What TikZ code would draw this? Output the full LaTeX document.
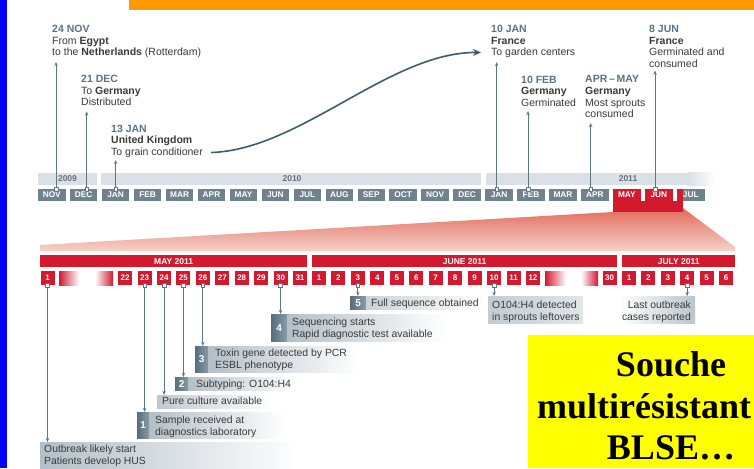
\documentclass[tikz,border=0pt]{standalone}
\usepackage{fontspec}
\setmainfont{Liberation Sans}
\newfontfamily\bigserif{Liberation Serif}
\usetikzlibrary{arrows.meta}
\definecolor{slate}{HTML}{6E8390}
\definecolor{yearbar}{HTML}{D9E1E6}
\definecolor{rd}{HTML}{D3192D}
\definecolor{ln}{HTML}{5F7785}
\definecolor{datec}{HTML}{5A7383}
\definecolor{txt}{HTML}{3A3A3A}
\definecolor{cbg}{HTML}{B3BFC7}
\definecolor{nsqd}{HTML}{566E7E}
\definecolor{nsql}{HTML}{8A9BA6}
\definecolor{yrtxt}{HTML}{65737D}
\definecolor{trtop}{HTML}{E26A5A}
\definecolor{trbot}{HTML}{F6D2C8}
\definecolor{orng}{HTML}{FF9900}
\definecolor{blu}{HTML}{0000FF}
\definecolor{ylw}{HTML}{FFFF00}
\definecolor{curvec}{HTML}{3F5C6C}
\newcommand\dtl[1]{\textcolor{datec}{\textbf{#1}}}
\newcommand\bld[1]{\textbf{#1}}
\tikzset{
  toptext/.style={anchor=north west, align=left, inner sep=0pt, text=txt, font=\fontsize{10.5}{11.6}\selectfont},
  mbox/.style={fill=slate, text=white, minimum width=27.5pt, minimum height=12pt, inner sep=0pt, font=\fontsize{8.3}{8.3}\selectfont\bfseries},
  ylabel/.style={text=yrtxt, inner sep=0pt, font=\fontsize{8.5}{8.5}\selectfont\bfseries},
  hbar/.style={fill=rd, text=white, minimum height=12pt, inner sep=0pt, font=\fontsize{8.5}{8.5}\selectfont\bfseries},
  dbox/.style={fill=rd, text=white, minimum width=14pt, minimum height=14pt, inner sep=0pt, font=\fontsize{8}{8}\selectfont\bfseries},
  csq/.style={draw=ln, fill=white, line width=0.6pt, minimum size=3.6pt, inner sep=0pt},
  arr/.style={draw=ln, line width=0.9pt, -{Stealth[length=4.2pt,width=3.4pt]}},
  cobg/.style={anchor=north west, inner sep=0pt, left color=cbg, right color=white},
  nsq/.style={anchor=north west, inner sep=0pt, left color=nsqd, right color=nsql, text=white, font=\fontsize{10}{10}\selectfont\bfseries},
  cotext/.style={inner sep=0pt, text=txt, align=left, font=\fontsize{10.4}{11.8}\selectfont},
  bigtxt/.style={inner sep=0pt, text=black, font=\bigserif\bfseries\fontsize{36}{36}\selectfont},
}
\begin{document}
\begin{tikzpicture}[x=1pt,y=-1pt]
\useasboundingbox (0,0) rectangle (754,468);
\begin{scope}
\clip (0,0) rectangle (754,468);
\fill[white] (0,0) rectangle (754,468);
% frame bars
\fill[blu] (0,0) rectangle (7,468);
\fill[orng] (129,0) rectangle (754,10.5);

% year bars
\fill[yearbar] (38,172.5) rectangle (97,185);
\fill[yearbar] (101,172.5) rectangle (481,185);
\fill[yearbar] (486,172.5) rectangle (688,185);
\shade[left color=yearbar, right color=white] (687.5,172.5) rectangle (716,185);
\node[ylabel] (y2009) at (67.5,179) {2009};
\node[ylabel] (y2010) at (292,179) {2010};
\node[ylabel] (y2011) at (628,179) {2011};

% month boxes
\foreach \m [count=\i from 0] in {NOV,DEC,JAN,FEB,MAR,APR,MAY,JUN,JUL,AUG,SEP,OCT,NOV,DEC,JAN,FEB,MAR,APR}
  \node[mbox] (m\i) at ({51.75+31.95*\i},195) {\m};
\node[mbox, fill=rd] (m18) at ({51.75+31.95*18},195) {MAY};
\node[mbox, fill=rd] (m19) at ({51.75+31.95*19},195) {JUN};
\node[mbox] (m20) at ({51.75+31.95*20},195) {};
\fill[rd] (m20.north west) rectangle ([xshift=6pt]m20.south west);
\node[text=white, inner sep=0pt, font=\fontsize{8.3}{8.3}\selectfont\bfseries] (m20t) at (m20) {JUL};

% zoom wedge
\shade[top color=trtop, bottom color=trbot] (40,245) -- (613,212) -- (683,208) -- (735,247) -- (735,251) -- (40,251) -- cycle;
\fill[rd] (m18.south west) rectangle (683,212);

% top texts
\node[toptext] (t1) at (52,25) {\dtl{24 NOV}\\From \bld{Egypt}\\to the \bld{Netherlands} (Rotterdam)};
\node[toptext] (t2) at (81,75) {\dtl{21 DEC}\\To \bld{Germany}\\Distributed};
\node[toptext] (t3) at (111,124.5) {\dtl{13 JAN}\\\bld{United Kingdom}\\To grain conditioner};
\node[toptext] (t4) at (491,25) {\dtl{10 JAN}\\\bld{France}\\To garden centers};
\node[toptext] (t5) at (521,75.5) {\dtl{10 FEB}\\\bld{Germany}\\Germinated};
\node[toptext] (t6) at (585,75.5) {\dtl{APR\,–\,MAY}\\\bld{Germany}\\Most sprouts\\consumed};
\node[toptext] (t7) at (649,25) {\dtl{8 JUN}\\\bld{France}\\Germinated and\\consumed};

% top arrows
\foreach \n/\xx/\tip in {1/56/62, 2/86.7/111.5, 3/115.7/160, 4/496.7/62, 5/528/111, 6/590.7/123, 7/655/70.5} {
  \coordinate (b\n) at (\xx,189);
  \coordinate (e\n) at (\xx,\tip);
  \draw[arr] (b\n) -- (e\n);
  \node[csq] (s\n) at (b\n) {};
}

% curve
\coordinate (cv0) at (211,152.5);
\coordinate (cv1) at (481,52.5);
\draw[curvec, line width=1.6pt, -{Stealth[length=8pt,width=7pt]}] (cv0) .. controls (300,150) and (390,52) .. (cv1);

% month header bars
\node[hbar, minimum width=267pt, anchor=north west] (hmay) at (40,255) {MAY 2011};
\node[hbar, minimum width=305pt, anchor=north west] (hjun) at (312,255) {JUNE 2011};
\node[hbar, minimum width=113pt, anchor=north west] (hjul) at (622,255) {JULY 2011};

% day boxes
\foreach \d/\k in {1/0,22/4,23/5,24/6,25/7,26/8,27/9,28/10,29/11,30/12,31/13}
  \node[dbox] (may\d) at ({47.5+19.42*\k},278) {\d};
\foreach \d in {1,...,12}
  \node[dbox] (jun\d) at ({319+19.45*(\d-1)},278) {\d};
\node[dbox] (jun30) at (609.5,278) {30};
\foreach \d in {1,...,6}
  \node[dbox] (jul\d) at ({629+19.4*(\d-1)},278) {\d};
\shade[left color=rd, right color=white] (59,271) rectangle (79,285);
\shade[left color=white, right color=rd] (95,271) rectangle (113,285);
\shade[left color=rd, right color=white] (545,271) rectangle (566,285);
\shade[left color=white, right color=rd] (581,271) rectangle (598,285);

% callouts
\node[cobg, minimum width=260pt, minimum height=28pt] (cout) at (40,442) {};
\node[cotext, anchor=north west] (tout) at (44,445) {Outbreak likely start\\Patients develop HUS};

\node[nsq, minimum width=12pt, minimum height=26pt] (n1) at (137,412) {1};
\node[cobg, minimum width=136pt, minimum height=26pt] (c1) at (149,412) {};
\node[cotext, anchor=north west] (tc1) at (155,415.5) {Sample received at\\diagnostics laboratory};

\node[cobg, minimum width=113pt, minimum height=13pt, left color=cbg!85] (cpure) at (157,395) {};
\node[cotext, anchor=base west] (tpure) at (162,404.5) {Pure culture available};

\node[nsq, minimum width=13pt, minimum height=13pt] (n2) at (175,377) {2};
\node[cobg, minimum width=107pt, minimum height=13pt] (c2) at (188,377) {};
\node[cotext, anchor=base west] (tc2) at (196,387.5) {Subtyping: O104:H4};

\node[nsq, minimum width=13pt, minimum height=26pt] (n3) at (195,346) {3};
\node[cobg, minimum width=150pt, minimum height=26pt] (c3) at (208,346) {};
\node[cotext, anchor=north west] (tc3) at (215,348.8) {Toxin gene detected by PCR\\ESBL phenotype};

\node[nsq, minimum width=16pt, minimum height=27pt] (n4) at (271,314) {4};
\node[cobg, minimum width=158pt, minimum height=27pt] (c4) at (287,314) {};
\node[cotext, anchor=north west] (tc4) at (292,317.8) {Sequencing starts\\Rapid diagnostic test available};

\node[nsq, minimum width=16pt, minimum height=13pt] (n5) at (350,296) {5};
\node[cobg, minimum width=119pt, minimum height=13pt, left color=cbg!70] (c5) at (366,296) {};
\node[cotext, anchor=base west] (tc5) at (371,306.7) {Full sequence obtained};

\node[cobg, minimum width=95pt, minimum height=27pt, left color=cbg!80, right color=cbg!40] (c6) at (488,296) {};
\node[cotext, anchor=north west] (tc6) at (492,301) {O104:H4 detected\\in sprouts leftovers};

\node[cobg, minimum width=77pt, minimum height=27pt, left color=white, right color=cbg!90] (c7) at (618,296) {};
\node[cotext, anchor=north east, align=right] (tc7) at (691,301) {Last outbreak\\cases reported};

% bottom connectors
\foreach \dn/\cn in {may1/cout, may23/c1, may24/cpure, may25/n2, may26/n3, may30/n4, jun3/n5, jun10/c6, jul4/c7} {
  \draw[arr] (\dn.south) -- (\dn.south |- \cn.north);
  \node[csq] (q\dn) at (\dn.south) {};
}

% yellow box
\fill[ylw] (528,335) rectangle (754,468);
\node[bigtxt, anchor=base] (w1) at (671,376) {Souche};
\node[bigtxt, anchor=base west] (w2) at (537,418) {multirésistant};
\node[bigtxt, anchor=base] (w3) at (671,459) {BLSE…};
\end{scope}
\end{tikzpicture}
\end{document}
